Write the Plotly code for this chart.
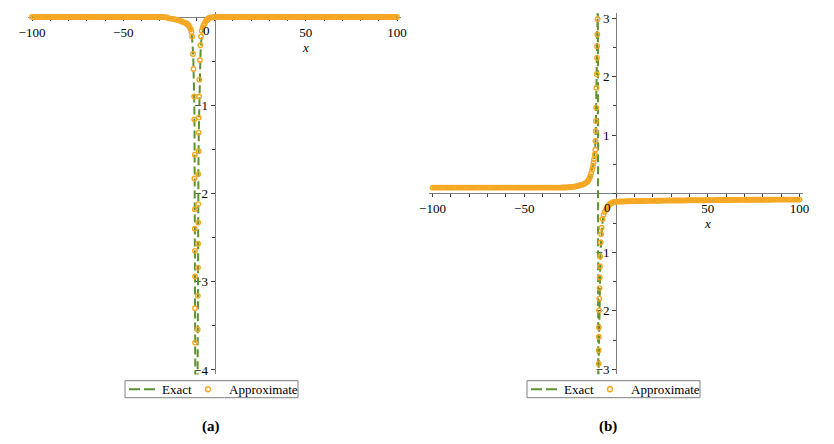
import plotly.graph_objects as go

# ---- data ----
# shared x samples of the flat parts of the approximate solution
FLAT_LEFT_X = [
    -100, -99, -98, -97, -96, -95, -94, -93, -92, -91,
    -90, -89, -88, -87, -86, -85, -84, -83, -82, -81,
    -80, -79, -78, -77, -76, -75, -74, -73, -72, -71,
    -70, -69, -68, -67, -66, -65, -64, -63, -62, -61,
    -60, -59, -58, -57, -56, -55, -54, -53, -52, -51,
    -50, -49, -48, -47, -46, -45, -44, -43, -42, -41,
    -40, -39, -38, -37, -36, -35, -34, -33, -32, -31,
    -30, -29, -28, -27, -26]
FLAT_RIGHT_X = [
    0, 1, 2, 3, 4, 5, 6, 7, 8, 9,
    10, 11, 12, 13, 14, 15, 16, 17, 18, 19,
    20, 21, 22, 23, 24, 25, 26, 27, 28, 29,
    30, 31, 32, 33, 34, 35, 36, 37, 38, 39,
    40, 41, 42, 43, 44, 45, 46, 47, 48, 49,
    50, 51, 52, 53, 54, 55, 56, 57, 58, 59,
    60, 61, 62, 63, 64, 65, 66, 67, 68, 69,
    70, 71, 72, 73, 74, 75, 76, 77, 78, 79,
    80, 81, 82, 83, 84, 85, 86, 87, 88, 89,
    90, 91, 92, 93, 94, 95, 96, 97, 98, 99, 100]

# panel (a): exact solution (dashed green line)
EXACT_A_X = [-100, -40, -30, -25, -22, -20, -18, -16, -15, -14, -13.5, -13, -12.5, -12.2,
             -11.9, -11.6, -11.4, -11.2, -11.05, -10.95, -10.85, -10.75, -10.65, -10.55, -10.45,
             -9.35, -9.25, -9.15, -9.05, -8.95, -8.8, -8.6, -8.4, -8.2, -8.0, -7.7, -7.3, -6.8,
             -6.0, -5.0, -4.0, -3.0, -2.0, 0, 100]
EXACT_A_Y = [0, -0.003, -0.008, -0.015, -0.025, -0.035, -0.05, -0.065, -0.08, -0.1, -0.12, -0.14,
             -0.18, -0.24, -0.36, -0.48, -0.6, -0.8, -1.0, -1.3, -1.7, -2.2, -2.8, -3.6, -4.6,
             -4.6, -3.6, -3.0, -2.5, -2.1, -1.7, -1.3, -1.0, -0.8, -0.6, -0.42, -0.28, -0.18,
             -0.1, -0.05, -0.025, -0.01, -0.004, 0, 0]

# panel (a): approximate solution (orange circles)
APPROX_A_LEFT_Y = [
    0, 0, 0, 0, 0, 0, 0, 0, 0, 0,
    0, 0, 0, 0, 0, 0, 0, 0, 0, 0,
    0, 0, 0, 0, 0, 0, 0, 0, 0, 0,
    0, 0, 0, 0, 0, 0, 0, 0, 0, 0,
    0, 0, 0, 0, 0, 0, 0, 0, 0, 0,
    0, 0, 0, 0, 0, 0, 0, 0, 0, 0,
    0, 0, 0, 0, 0, 0, 0, 0, 0, 0,
    0, 0, 0, -0.002, -0.004]
APPROX_A_MID_X = [-25, -24, -23, -22, -21, -20, -19, -18, -17, -16, -15.5, -15, -14.5, -14,
                  -13.5, -13, -12.6, -12.3,
                  -11.8, -11.5, -11.1, -11.1, -10.8, -11.0, -10.8, -10.8, -10.75, -10.7, -10.7,
                  -10.65,
                  -9.2, -9.1, -9.05, -9.0, -8.95, -8.9, -8.85, -8.7, -8.65, -8.6, -8.4, -8.3,
                  -8.0, -7.7, -7.4, -7.0,
                  -6.5, -6, -5.5, -5, -4.5, -4, -3.5, -3, -2, -1]
APPROX_A_MID_Y = [-0.015, -0.018, -0.021, -0.025, -0.03, -0.035, -0.042, -0.05, -0.058, -0.065,
                  -0.072, -0.08, -0.09, -0.1, -0.12, -0.14, -0.17, -0.22,
                  -0.42, -0.59, -0.9, -1.16, -1.56, -1.83, -2.18, -2.4, -2.65, -2.94, -3.3,
                  -3.69,
                  -3.54, -3.16, -2.84, -2.57, -2.33, -2.12, -1.78, -1.52, -1.31, -1.14, -0.9,
                  -0.71, -0.49, -0.32, -0.22, -0.155,
                  -0.12, -0.095, -0.075, -0.055, -0.04, -0.03, -0.02, -0.012, -0.005, -0.002]
APPROX_A_RIGHT_Y = [
    0, 0, 0, 0, 0, 0, 0, 0, 0, 0,
    0, 0, 0, 0, 0, 0, 0, 0, 0, 0,
    0, 0, 0, 0, 0, 0, 0, 0, 0, 0,
    0, 0, 0, 0, 0, 0, 0, 0, 0, 0,
    0, 0, 0, 0, 0, 0, 0, 0, 0, 0,
    0, 0, 0, 0, 0, 0, 0, 0, 0, 0,
    0, 0, 0, 0, 0, 0, 0, 0, 0, 0,
    0, 0, 0, 0, 0, 0, 0, 0, 0, 0,
    0, 0, 0, 0, 0, 0, 0, 0, 0, 0,
    0, 0, 0, 0, 0, 0, 0, 0, 0, 0, 0]

# panel (b): exact solution
EXACT_B_X = [-100, -30, -25, -20, -18, -16, -15, -14, -13, -12.5, -12, -11.5, -11.2, -11.0,
             -10.8, -10.6, -10.4, -10.2, -10.05, -9.9,
             -9.7, -9.5, -9.35, -9.2, -9.05, -8.9, -8.7, -8.5, -8.2, -7.9, -7.4, -7.0, -6.0,
             -5.0, -4.0, -3.0, -2.0, 0, 5, 10, 20, 40, 60, 80, 100]
EXACT_B_Y = [0.105, 0.105, 0.112, 0.14, 0.16, 0.195, 0.23, 0.3, 0.41, 0.5, 0.59, 0.72, 0.88,
             1.15, 1.5, 1.9, 2.3, 2.7, 3.0, 3.4,
             -3.4, -2.9, -2.55, -2.2, -1.9, -1.6, -1.3, -1.08, -0.85, -0.68, -0.5, -0.42, -0.32,
             -0.26, -0.21, -0.18, -0.16, -0.135, -0.128, -0.125, -0.12, -0.112, -0.106, -0.101,
             -0.1]

# panel (b): approximate solution
APPROX_B_LEFT_Y = [
    0.105, 0.105, 0.105, 0.105, 0.105, 0.105, 0.105, 0.105, 0.105, 0.105,
    0.105, 0.105, 0.105, 0.105, 0.105, 0.105, 0.105, 0.105, 0.105, 0.105,
    0.105, 0.105, 0.105, 0.105, 0.105, 0.105, 0.105, 0.105, 0.105, 0.105,
    0.105, 0.105, 0.105, 0.105, 0.105, 0.105, 0.105, 0.105, 0.105, 0.105,
    0.105, 0.105, 0.105, 0.105, 0.105, 0.105, 0.105, 0.105, 0.105, 0.105,
    0.105, 0.105, 0.105, 0.105, 0.105, 0.105, 0.105, 0.105, 0.105, 0.105,
    0.105, 0.105, 0.105, 0.105, 0.105, 0.105, 0.105, 0.105, 0.105, 0.105,
    0.105, 0.106, 0.107, 0.108, 0.11]
APPROX_B_MID_X = [-25, -24, -23, -22, -21, -20, -19, -18, -17, -16, -15.5, -15, -14.4, -14,
                  -13.5, -13, -12.6, -12.3, -12, -11.6, -11.3,
                  -11.2, -11.1, -11.0, -10.8, -10.7, -10.5, -10.4, -10.3, -10.2, -10.05,
                  -9.45, -9.4, -9.35, -9.3, -9.2, -9.1, -9.0, -8.9, -8.75, -8.6, -8.35, -8.1,
                  -7.9, -7.4, -6.8, -6.2, -5.5, -5, -4.5, -4, -3.5, -3, -2.5, -2, -1]
APPROX_B_MID_Y = [0.112, 0.116, 0.12, 0.126, 0.133, 0.14, 0.15, 0.16, 0.175, 0.195, 0.21, 0.23,
                  0.27, 0.3, 0.35, 0.41, 0.47, 0.53, 0.59, 0.67, 0.75,
                  0.9, 1.07, 1.24, 1.47, 1.81, 2.04, 2.32, 2.52, 2.72, 2.98,
                  -2.9, -2.67, -2.44, -2.28, -1.99, -1.79, -1.61, -1.43, -1.24, -1.07, -0.83,
                  -0.69, -0.58, -0.43, -0.36, -0.31, -0.27, -0.25, -0.22, -0.2, -0.18, -0.17,
                  -0.16, -0.15, -0.14]
APPROX_B_RIGHT_Y = [
    -0.135, -0.134, -0.133, -0.132, -0.131, -0.13, -0.129, -0.128, -0.127, -0.126,
    -0.125, -0.124, -0.124, -0.123, -0.123, -0.122, -0.122, -0.121, -0.121, -0.12,
    -0.12, -0.12, -0.119, -0.119, -0.118, -0.118, -0.117, -0.117, -0.116, -0.116,
    -0.115, -0.115, -0.115, -0.114, -0.114, -0.114, -0.113, -0.113, -0.113, -0.112,
    -0.112, -0.112, -0.111, -0.111, -0.111, -0.11, -0.11, -0.11, -0.11, -0.109,
    -0.109, -0.109, -0.108, -0.108, -0.108, -0.107, -0.107, -0.107, -0.106, -0.106,
    -0.106, -0.106, -0.105, -0.105, -0.105, -0.105, -0.104, -0.104, -0.104, -0.104,
    -0.103, -0.103, -0.103, -0.103, -0.102, -0.102, -0.102, -0.102, -0.102, -0.102,
    -0.101, -0.101, -0.101, -0.101, -0.101, -0.1, -0.1, -0.1, -0.1, -0.1,
    -0.1, -0.1, -0.1, -0.1, -0.1, -0.1, -0.1, -0.1, -0.1, -0.1, -0.1]

X_TICKS = [-100, -50, 50, 100]
Y_TICKS_A = [-4, -3, -2, -1]
Y_TICKS_B = [-3, -2, -1, 1, 2, 3]

# ---- styling ----
W, H = 834, 444
GREEN = "#5e9130"
ORANGE = "#f7a823"
AXIS = "#7f7f7f"
TICK = "#404040"
SERIF = "Liberation Serif"

fig = go.Figure()

panels = [
    ("x", "y", EXACT_A_X, EXACT_A_Y,
     FLAT_LEFT_X + APPROX_A_MID_X + FLAT_RIGHT_X,
     APPROX_A_LEFT_Y + APPROX_A_MID_Y + APPROX_A_RIGHT_Y),
    ("x2", "y2", EXACT_B_X, EXACT_B_Y,
     FLAT_LEFT_X + APPROX_B_MID_X + FLAT_RIGHT_X,
     APPROX_B_LEFT_Y + APPROX_B_MID_Y + APPROX_B_RIGHT_Y),
]
for xa, ya, ex, ey, apx, apy in panels:
    fig.add_trace(go.Scatter(
        x=ex, y=ey, xaxis=xa, yaxis=ya, showlegend=False,
        mode="lines", name="Exact",
        line=dict(color=GREEN, width=2, dash="8px,4px"),
    ))
    fig.add_trace(go.Scatter(
        x=apx, y=apy, xaxis=xa, yaxis=ya, showlegend=False,
        mode="markers", name="Approximate",
        marker=dict(symbol="circle-open", size=4.5, color=ORANGE, line=dict(width=1.4)),
    ))

tick_font = dict(family=SERIF, size=13, color="black")


def xaxis_cfg(domain, pos):
    return dict(
        domain=domain, range=[-102, 102], anchor="free", position=pos, automargin=False,
        showline=True, linecolor=AXIS, linewidth=1, layer="below traces",
        zeroline=False, showgrid=False,
        tickmode="array", tickvals=X_TICKS, ticks="outside", ticklen=3, tickcolor=TICK,
        minor=dict(dtick=10, tick0=0, ticks="outside", ticklen=3, tickcolor=TICK),
        tickfont=tick_font,
    )


def yaxis_cfg(domain, rng, pos, tickvals):
    return dict(
        domain=domain, range=rng, anchor="free", position=pos, automargin=False,
        showline=True, linecolor=AXIS, linewidth=1, layer="below traces",
        zeroline=False, showgrid=False,
        tickmode="array", tickvals=tickvals, ticks="outside", ticklen=4, tickcolor=TICK,
        minor=dict(dtick=0.5, tick0=0, ticks="outside", ticklen=3, tickcolor=TICK),
        tickfont=tick_font,
    )


fig.update_layout(
    width=W, height=H,
    margin=dict(l=0, r=0, t=0, b=0, autoexpand=False),
    paper_bgcolor="white", plot_bgcolor="white",
    showlegend=False,
    xaxis=xaxis_cfg([0.034, 0.4804], 0.9606),
    yaxis=yaxis_cfg([0.1568, 0.9736], [-4.05, 0.06], 0.2572, Y_TICKS_A),
    xaxis2=xaxis_cfg([0.5142, 0.9631], 0.5642),
    yaxis2=yaxis_cfg([0.1572, 0.97], [-3.08, 3.08], 0.7386, Y_TICKS_B),
)

# zero labels and axis titles
for xr, yr in [("x", "y"), ("x2", "y2")]:
    fig.add_annotation(x=0, y=0, xref=xr, yref=yr, text="0", showarrow=False,
                       xanchor="right", yanchor="top", xshift=-3, yshift=-4, font=tick_font)
    fig.add_annotation(x=50, y=0, xref=xr, yref=yr, text="<i>x</i>", showarrow=False,
                       xanchor="center", yanchor="middle", yshift=-30, font=tick_font)


# boxed legend under each panel, drawn in pixel positions
def px_x(v):
    return v / W


def px_y(v):
    return 1 - v / H


for left in [125, 527]:
    top, bottom, mid = 380.7, 397.7, 389.2
    fig.add_shape(type="rect", xref="paper", yref="paper",
                  x0=px_x(left), x1=px_x(left + 173), y0=px_y(bottom), y1=px_y(top),
                  line=dict(color=AXIS, width=1), fillcolor="white")
    fig.add_shape(type="line", xref="paper", yref="paper",
                  x0=px_x(left + 4), x1=px_x(left + 30), y0=px_y(mid), y1=px_y(mid),
                  line=dict(color=GREEN, width=2, dash="11px,4px"))
    fig.add_shape(type="circle", xref="paper", yref="paper",
                  x0=px_x(left + 80.5), x1=px_x(left + 85.5),
                  y0=px_y(mid + 2.5), y1=px_y(mid - 2.5),
                  line=dict(color=ORANGE, width=1.4))
    fig.add_annotation(x=px_x(left + 35), y=px_y(mid), xref="paper", yref="paper",
                       text="Exact", showarrow=False, xanchor="left", yanchor="middle",
                       font=tick_font)
    fig.add_annotation(x=px_x(left + 102), y=px_y(mid), xref="paper", yref="paper",
                       text="Approximate", showarrow=False, xanchor="left", yanchor="middle",
                       font=tick_font)

# captions
for label, xp in [("(a)", 211), ("(b)", 608)]:
    fig.add_annotation(x=px_x(xp), y=px_y(426), xref="paper", yref="paper",
                       text=f"<b>{label}</b>", showarrow=False,
                       xanchor="center", yanchor="middle",
                       font=dict(family=SERIF, size=15, color="black"))

fig.write_html("out.html", config={"displayModeBar": False},
               post_script="document.body.style.margin='0';")
